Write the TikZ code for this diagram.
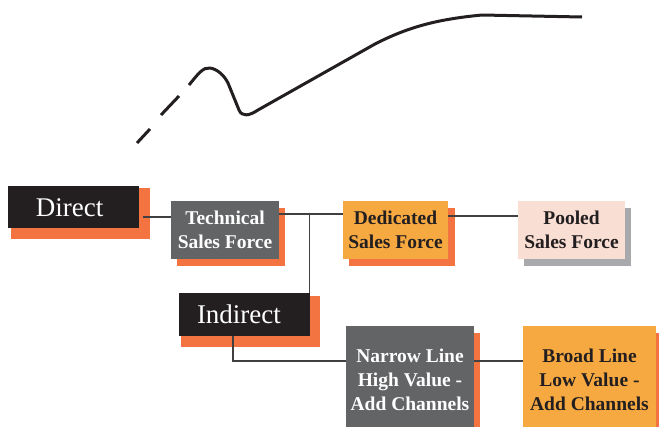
\documentclass[tikz,border=0pt]{standalone}
\usepackage{fontspec}
\setmainfont{Liberation Serif}
\usetikzlibrary{backgrounds}
\definecolor{inkdark}{HTML}{231F20}
\definecolor{boxgray}{HTML}{636466}
\definecolor{shadoworange}{HTML}{F37440}
\definecolor{fillorange}{HTML}{F7A941}
\definecolor{fillpink}{HTML}{F9DED3}
\definecolor{shadowgray}{HTML}{A7A9AC}
\definecolor{linegray}{HTML}{404041}
\tikzset{
  bigbox/.style={rectangle, inner sep=0pt, fill=inkdark, text=white,
    font=\fontsize{27}{30}\selectfont},
  smallbox/.style={rectangle, inner sep=0pt, align=center,
    font=\bfseries\fontsize{19.5}{23.7}\selectfont},
  conn/.style={draw=linegray, line width=1.1pt},
  curve/.style={draw=inkdark, line width=3pt, line join=round}
}
\begin{document}
\begin{tikzpicture}[x=1pt,y=-1pt]
\useasboundingbox (0,0) rectangle (659,426);
\clip (0,0) rectangle (659,426);

% top curve
\draw[curve] (137,143) -- (150,129);
\draw[curve] (161,115) -- (179,96);
\draw[curve] (189,85) .. controls (198,74) and (203,67) .. (210,68)
  .. controls (217,69) and (224,75) .. (228,83) -- (239,110)
  .. controls (242,117) and (249,116) .. (258,110) -- (375,44)
  .. controls (410,26) and (440,19) .. (482,15) -- (582,17);

% boxes
\node[bigbox, minimum width=131pt, minimum height=42pt, text depth=0pt, text height=18pt, align=left, text width=115pt] (direct) at (73.5,207) {\hspace*{20pt}Direct};
\node[bigbox, minimum width=131pt, minimum height=43pt, text depth=0pt, text height=18pt, align=left, text width=115pt] (indirect) at (244.5,314.5) {\hspace*{10pt}Indirect};
\node[smallbox, fill=boxgray, text=white, minimum width=108pt, minimum height=58pt] (technical) at (225,230) {Technical\\Sales Force};
\node[smallbox, fill=fillorange, text=inkdark, minimum width=105pt, minimum height=58pt] (dedicated) at (395.5,230) {Dedicated\\Sales Force};
\node[smallbox, fill=fillpink, text=inkdark, minimum width=107pt, minimum height=58pt] (pooled) at (571.5,230) {Pooled\\Sales Force};
\node[smallbox, fill=boxgray, text=white, minimum width=128pt, minimum height=108pt] (narrow) at (410,380) {Narrow Line\\High Value -\\Add Channels};
\node[smallbox, fill=fillorange, text=inkdark, minimum width=133pt, minimum height=108pt] (broad) at (589.5,380) {Broad Line\\Low Value -\\Add Channels};

% shadows
\begin{scope}[on background layer]
\fill[shadoworange] ([shift={(3,2)}]direct.north west) rectangle ([shift={(11,11)}]direct.south east);
\fill[shadoworange] ([shift={(2,3)}]indirect.north west) rectangle ([shift={(10,11)}]indirect.south east);
\fill[shadoworange] ([shift={(6,7)}]technical.north west) rectangle ([shift={(6,7)}]technical.south east);
\fill[shadoworange] ([shift={(6,7)}]dedicated.north west) rectangle ([shift={(7,7)}]dedicated.south east);
\fill[shadowgray] ([shift={(6,7)}]pooled.north west) rectangle ([shift={(6,7)}]pooled.south east);
\fill[shadoworange] ([shift={(6,7)}]narrow.north west) rectangle ([shift={(6,7)}]narrow.south east);
\fill[shadoworange] ([shift={(6,7)}]broad.north west) rectangle ([shift={(7,7)}]broad.south east);
\end{scope}

% connectors
\coordinate (d1) at ([shift={(4,10)}]direct.east);
\draw[conn] (d1) -- (d1 -| technical.west);
\coordinate (t1) at ([yshift=16pt]technical.east);
\draw[conn] (t1) -- (t1 -| dedicated.west);
\coordinate (j) at (309.5,214);
\draw[conn] (j) -- (j |- indirect.north);
\coordinate (p1) at ([yshift=14pt]dedicated.east);
\draw[conn] (p1) -- (p1 -| pooled.west);
\coordinate (i1) at (233,336);
\coordinate (i2) at (233,361);
\draw[conn] (i1) -- (i2) -- (i2 -| narrow.west);
\coordinate (n1) at (narrow.east |- i2);
\draw[conn] (n1) -- (n1 -| broad.west);
\end{tikzpicture}
\end{document}
